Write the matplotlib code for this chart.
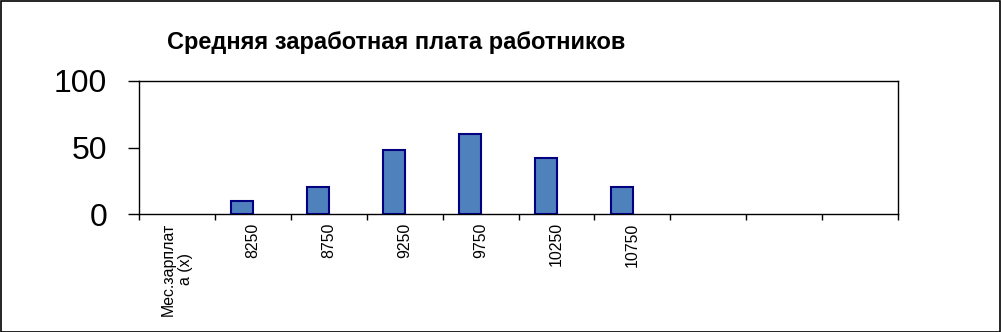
import numpy as np
import matplotlib
matplotlib.use('Agg')
import matplotlib.pyplot as plt
from matplotlib.patches import Rectangle

plt.rcParams['font.family'] = ['Liberation Sans', 'DejaVu Sans']

# data
categories = ['Мес.зарплат\nа (х)', '8250', '8750', '9250', '9750',
              '10250', '10750', '', '', '']
frequency = [0, 10, 20, 48, 60, 42, 20]
y_ticks = [0, 50, 100]
title = 'Средняя заработная плата работников'

W, H = 1001, 332
fig = plt.figure(figsize=(W / 100, H / 100), dpi=100)
fig.patches.append(Rectangle((0.5 / W, 0.5 / H), 1 - 1.5 / W, 1 - 1.5 / H,
                             transform=fig.transFigure, fill=False,
                             edgecolor='black', linewidth=1.2))

ax = fig.add_axes([139 / W, (H - 214) / H, (898 - 139) / W, (214 - 81) / H])

# bars sit a bit left of the category centre (second, empty series to the right)
offset = 10.5 / 76
bar_w = 22 / 76
freq = np.array(frequency, dtype=float)
xs = np.arange(len(freq)) - offset
shown = freq > 0  # zero-height bars leave no mark in the original
ax.bar(xs[shown], freq[shown], width=bar_w, color='#4F81BD',
       edgecolor='#000080', linewidth=1.5, zorder=3)

ax.set_xlim(-0.5, len(categories) - 0.5)
ax.set_ylim(0, 100)
ax.set_yticks(y_ticks)
ax.tick_params(axis='y', direction='out', length=8, width=1, pad=15,
               labelsize=23)

# category labels centred, ticks on the boundaries
ax.set_xticks(np.arange(len(categories)))
ax.set_xticklabels(categories, rotation=90, fontsize=11.4, va='top',
                   ha='center', multialignment='center')
ax.set_xticks(np.arange(len(categories) + 1) - 0.5, minor=True)
ax.tick_params(axis='x', which='major', length=0, pad=6)
ax.tick_params(axis='x', which='minor', direction='out', length=4, width=1)

for s in ax.spines.values():
    s.set_linewidth(1)
    s.set_color('black')

fig.text(0.396, 0.873, title, ha='center', va='center', fontsize=17,
         fontweight='bold')

fig.savefig('out.png', dpi=100)
